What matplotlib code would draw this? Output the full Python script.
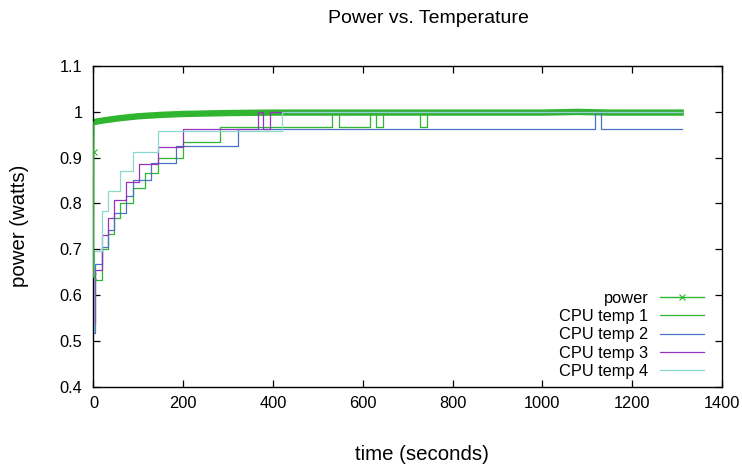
import matplotlib.pyplot as plt
from matplotlib.ticker import FormatStrFormatter, MultipleLocator

plt.rcParams['font.family'] = ['Liberation Sans', 'DejaVu Sans']

# power readings (normalised)
power_t = [0, 0.5, 1, 10, 30, 60, 100, 150, 200, 300, 400, 600, 800, 1000, 1080, 1150, 1315]
power_v = [0.642, 0.911, 0.977, 0.979, 0.982, 0.986, 0.990, 0.993, 0.995, 0.997, 0.998,
           0.998, 0.998, 0.998, 0.9995, 0.998, 0.998]

# CPU temperatures (normalised), step changes
cpu1_t = [0, 3, 18, 33, 46, 60, 87, 115, 143, 199, 282, 532, 546, 616, 630, 644, 728, 742, 1312]
cpu1_v = [0.633, 0.633, 0.700, 0.733, 0.767, 0.800, 0.833, 0.867, 0.900, 0.933, 0.967,
          1.0, 0.967, 1.0, 0.967, 1.0, 0.967, 1.0, 1.0]

cpu2_t = [0, 3, 18, 33, 46, 73, 88, 129, 184, 323, 1117, 1130, 1312]
cpu2_v = [0.518, 0.667, 0.704, 0.741, 0.778, 0.815, 0.852, 0.889, 0.926, 0.963, 1.0, 0.963, 0.963]

cpu3_t = [0, 3, 18, 33, 45, 72, 102, 143, 199, 366, 378, 394, 1312]
cpu3_v = [0.538, 0.654, 0.731, 0.769, 0.808, 0.846, 0.885, 0.923, 0.962, 1.0, 0.962, 1.0, 1.0]

cpu4_t = [0, 2, 18, 33, 60, 87, 143, 420, 1312]
cpu4_v = [0.522, 0.696, 0.783, 0.826, 0.870, 0.913, 0.957, 1.0, 1.0]

green = '#30b530'
blue = '#4a72c4'
purple = '#9632c0'
cyan = '#8ad8d0'

fig = plt.figure(figsize=(7.42, 4.67), dpi=100)
ax = fig.add_axes([0.126, 0.172, 0.847, 0.687])

# power: thin start with markers, then thick noisy band
ax.plot(power_t[:3], power_v[:3], color=green, lw=1, marker='x', ms=5, mew=0.8,
        markevery=[0, 1], zorder=5)
ax.plot(power_t[2:], power_v[2:], color=green, lw=4.6, solid_capstyle='butt')

lw = 0.9
ax.plot(cpu1_t, cpu1_v, color=green, lw=lw, drawstyle='steps-post')
ax.plot(cpu2_t, cpu2_v, color=blue, lw=lw, drawstyle='steps-post')
ax.plot(cpu3_t, cpu3_v, color=purple, lw=lw, drawstyle='steps-post')
ax.plot(cpu4_t, cpu4_v, color=cyan, lw=lw, drawstyle='steps-post')

# legend handles
h0, = ax.plot([], [], color=green, lw=1, marker='x', ms=5, mew=0.8)
h1, = ax.plot([], [], color=green, lw=lw)
h2, = ax.plot([], [], color=blue, lw=lw)
h3, = ax.plot([], [], color=purple, lw=lw)
h4, = ax.plot([], [], color=cyan, lw=lw)
ax.legend([h0, h1, h2, h3, h4],
          ['power', 'CPU temp 1', 'CPU temp 2', 'CPU temp 3', 'CPU temp 4'],
          loc='lower right', bbox_to_anchor=(0.99, -0.012), frameon=False,
          markerfirst=False, fontsize=11.8, handlelength=2.7, handletextpad=0.7,
          labelspacing=0.2, borderaxespad=0.3)

ax.set_xlim(0, 1400)
ax.set_ylim(0.4, 1.1)
ax.xaxis.set_major_locator(MultipleLocator(200))
ax.yaxis.set_major_locator(MultipleLocator(0.1))
ax.yaxis.set_major_formatter(FormatStrFormatter('%g'))
ax.tick_params(direction='in', length=5, width=0.9, top=True, right=True,
               labelsize=11.8)
ax.tick_params(axis='y', pad=8)
ax.tick_params(axis='x', pad=7)
for s in ax.spines.values():
    s.set_linewidth(1.0)

fig.text(0.577, 0.960, 'Power vs. Temperature', ha='center', va='center', fontsize=14)
fig.text(0.569, 0.026, 'time (seconds)', ha='center', va='center', fontsize=14.7)
fig.text(0.026, 0.516, 'power (watts)', ha='center', va='center', rotation=90, fontsize=14.7)

fig.savefig('out.png', dpi=100)
